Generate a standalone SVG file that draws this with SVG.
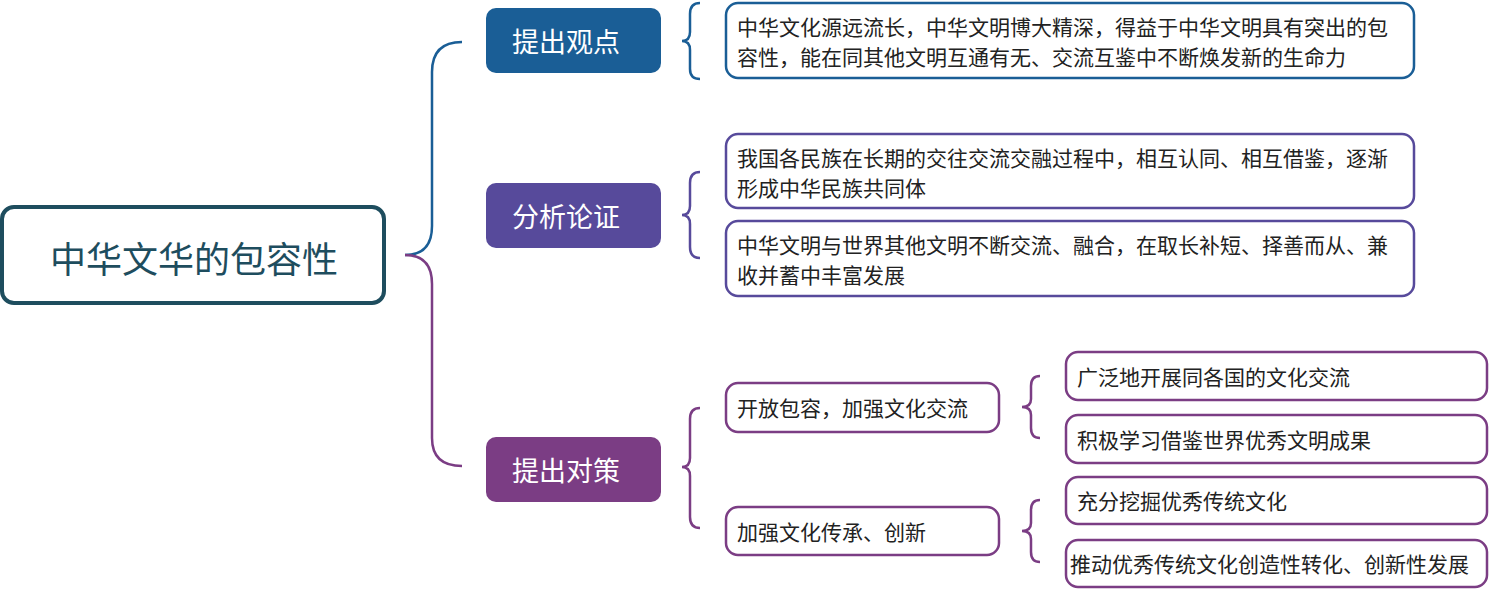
<svg xmlns="http://www.w3.org/2000/svg" width="1489" height="589" viewBox="0 0 1489 589">
<style>
text{font-family:"Microsoft YaHei","Noto Sans CJK SC","Noto Sans",sans-serif;}
.t{font-size:21px;fill:#222;}
.h{font-size:27px;fill:#fff;text-anchor:middle;dominant-baseline:central;}
.box{fill:#fff;stroke-width:2.5;}
.br{fill:none;stroke-width:2.5;}
.b{stroke:#1a5e96;}.p1{stroke:#574a9b;}.p2{stroke:#7b3d84;}
</style>
<g id="connectors">
<path class="br" stroke="#1a5e96" stroke-width="4" fill="none" d="M405,255 Q432,255 432,226 L432,72 Q432,42 462,42"/>
<path class="br" stroke="#7b3d84" stroke-width="4" fill="none" d="M405,255 Q432,255 432,284 L432,438 Q432,466 462,466"/>
<path class="br b" d="M700,3 Q690,3 690,14 L690,32 Q690,41 682,41 Q690,41 690,50 L690,69 Q690,79 700,79"/>
<path class="br p1" d="M700,172 Q690,172 690,183 L690,206 Q690,215 682,215 Q690,215 690,224 L690,247 Q690,258 700,258"/>
<path class="br p2" d="M700,408 Q690,408 690,419 L690,458 Q690,467 682,467 Q690,467 690,476 L690,517 Q690,528 700,528"/>
<path class="br p2" d="M1040,376 Q1031,376 1031,386 L1031,399 Q1031,407 1022,407 Q1031,407 1031,415 L1031,428 Q1031,438 1040,438"/>
<path class="br p2" d="M1040,500 Q1031,500 1031,510 L1031,523 Q1031,531 1022,531 Q1031,531 1031,539 L1031,552 Q1031,562 1040,562"/>
</g>
<g id="root">
<rect x="2" y="207" width="382" height="96" rx="12" fill="#fff" stroke="#1e4d5e" stroke-width="4"/>
<text x="194" y="257" font-size="36" fill="#1e4d5e" text-anchor="middle" dominant-baseline="central">中华文华的包容性</text>
</g>
<g id="n1"><rect x="486" y="8" width="175" height="65" rx="10" fill="#1a5e96"/><text class="h" x="566" y="40">提出观点</text></g>
<g id="n2"><rect x="486" y="183" width="175" height="65" rx="10" fill="#574a9b"/><text class="h" x="566" y="215">分析论证</text></g>
<g id="n3"><rect x="486" y="437" width="175" height="65" rx="10" fill="#7b3d84"/><text class="h" x="566" y="469">提出对策</text></g>
<g id="l1"><rect class="box b" x="726" y="3" width="688" height="75" rx="12"/>
<text class="t" x="737" y="35">中华文化源远流长，中华文明博大精深，得益于中华文明具有突出的包</text>
<text class="t" x="737" y="65">容性，能在同其他文明互通有无、交流互鉴中不断焕发新的生命力</text></g>
<g id="l2a"><rect class="box p1" x="726" y="134" width="688" height="74" rx="12"/>
<text class="t" x="737" y="166">我国各民族在长期的交往交流交融过程中，相互认同、相互借鉴，逐渐</text>
<text class="t" x="737" y="196">形成中华民族共同体</text></g>
<g id="l2b"><rect class="box p1" x="726" y="221" width="688" height="75" rx="12"/>
<text class="t" x="737" y="253">中华文明与世界其他文明不断交流、融合，在取长补短、择善而从、兼</text>
<text class="t" x="737" y="283">收并蓄中丰富发展</text></g>
<g id="s1"><rect class="box p2" x="726" y="383" width="273" height="49" rx="12"/><text class="t" x="737" y="416">开放包容，加强文化交流</text></g>
<g id="s2"><rect class="box p2" x="726" y="507" width="273" height="48" rx="12"/><text class="t" x="737" y="540">加强文化传承、创新</text></g>
<g id="s1a"><rect class="box p2" x="1066" y="352" width="421" height="48" rx="12"/><text class="t" x="1077" y="385">广泛地开展同各国的文化交流</text></g>
<g id="s1b"><rect class="box p2" x="1066" y="415" width="421" height="48" rx="12"/><text class="t" x="1077" y="448">积极学习借鉴世界优秀文明成果</text></g>
<g id="s2a"><rect class="box p2" x="1066" y="477" width="421" height="47" rx="12"/><text class="t" x="1077" y="509">充分挖掘优秀传统文化</text></g>
<g id="s2b"><rect class="box p2" x="1066" y="540" width="421" height="47" rx="12"/><text class="t" x="1070" y="572">推动优秀传统文化创造性转化、创新性发展</text></g>
</svg>
